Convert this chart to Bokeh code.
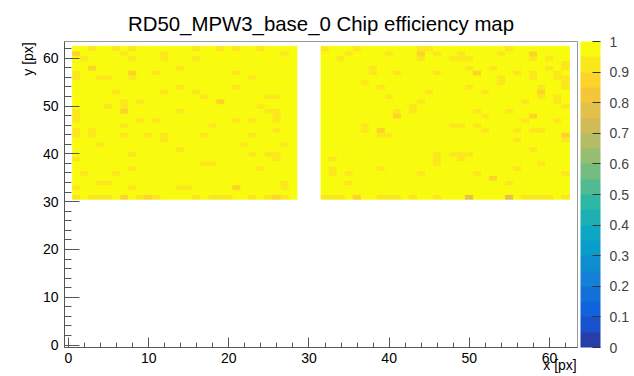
import numpy as np
from bokeh.plotting import figure
from bokeh.models import (LinearColorMapper, ColorBar, Range1d, SingleIntervalTicker,
                          ColumnDataSource, FixedTicker)
from bokeh.embed import file_html
from bokeh.resources import INLINE

# ---------------- data ----------------
title = "RD50_MPW3_base_0 Chip efficiency map"
x_label = "x [px]"
y_label = "y [px]"
col_blocks = [(1, 28), (32, 62)]      # active pixel columns
row_span = (31, 62)                   # active pixel rows
default_eff = 1.0

# cells with efficiency below 1 (column, row)
low_x = [3, 6, 8, 16, 19, 21, 24,
         1, 7, 12, 27,
         2, 8, 12, 16,
         3, 14,
         1, 8, 11, 21,
         1, 4, 5, 8, 23,
         14, 21,
         6, 12, 16,
         17, 25, 26,
         7, 9, 19,
         5, 7, 24,
         1, 7, 14, 25, 26,
         1, 26,
         1, 9, 11, 21, 23, 26,
         7, 18,
         1, 3, 26,
         1, 3, 7, 10, 12, 17, 23,
         12,
         4, 22, 27,
         14,
         8, 23, 25, 26,
         1, 26,
         17, 18,
         8, 24,
         2, 6,
         4, 5, 27,
         1, 8, 14, 15, 21, 27,
         1, 3, 4, 5, 7, 9, 10, 11, 16, 18, 19, 20, 23, 25, 26, 27,
         # right block
         32, 36, 44, 45, 55,
         35, 40, 44, 46, 49, 54, 58,
         34, 44, 48, 49, 50, 58, 60,
         62,
         38, 50, 53, 60, 62,
         38, 41, 46, 51, 56, 58, 61,
         54, 58, 61, 62,
         37, 54, 62,
         39, 50, 59, 62,
         45, 52, 59,
         40, 59, 61,
         44, 57, 61,
         43, 62,
         41, 43, 51, 55,
         41, 52, 58,
         57, 61,
         37, 48, 49, 51,
         37, 39, 52, 56, 58, 59,
         39, 40, 62,
         56, 62,
         58,
         46, 48, 49, 50,
         33, 46, 49,
         46, 59,
         33, 39, 56,
         33, 35, 44, 51, 62,
         53,
         35, 55,
         32, 33, 34, 36, 39, 40, 41, 43, 46, 50, 55, 57, 58, 59, 60, 62]
low_y = ([62] * 7 + [61] * 4 + [60] * 4 + [58] * 2 + [57] * 4 + [56] * 5 + [54] * 2 +
         [53] * 3 + [52] * 3 + [51] * 3 + [50] * 3 + [49] * 5 + [48] * 2 + [47] * 6 +
         [46] * 2 + [45] * 3 + [44] * 7 + [43] * 1 + [42] * 3 + [41] * 1 + [40] * 4 +
         [39] * 2 + [38] * 2 + [37] * 2 + [36] * 2 + [34] * 3 + [33] * 6 + [31] * 16 +
         [62] * 5 + [61] * 7 + [60] * 7 + [59] * 1 + [58] * 5 + [57] * 7 + [56] * 4 +
         [55] * 3 + [54] * 4 + [53] * 3 + [52] * 3 + [51] * 3 + [50] * 2 + [49] * 4 +
         [48] * 3 + [47] * 2 + [46] * 4 + [45] * 6 + [44] * 3 + [43] * 2 + [41] * 1 +
         [40] * 4 + [39] * 3 + [38] * 2 + [37] * 3 + [36] * 5 + [35] * 1 + [34] * 2 +
         [31] * 16)
# efficiencies of the darker cells; all other listed cells are light_eff
dark_cells = {(1, 61): 0.89, (3, 58): 0.89, (8, 57): 0.89, (19, 51): 0.89, (7, 49): 0.89,
              (21, 33): 0.89, (7, 31): 0.89, (10, 31): 0.89, (26, 31): 0.89,
              (44, 61): 0.89, (58, 61): 0.89, (51, 57): 0.89, (59, 53): 0.89,
              (41, 48): 0.89, (58, 48): 0.89, (39, 45): 0.89, (62, 44): 0.89,
              (53, 35): 0.89, (36, 31): 0.89, (50, 31): 0.78, (55, 31): 0.78}
light_eff = 0.93
cbar_ticks = [0, 0.1, 0.2, 0.3, 0.4, 0.5, 0.6, 0.7, 0.8, 0.9, 1]

# ---------------- palette (ROOT kBird, 20 contours) ----------------
stops = [0.0, 0.125, 0.25, 0.375, 0.5, 0.625, 0.75, 0.875, 1.0]
red = [0.2082, 0.0592, 0.0780, 0.0232, 0.1802, 0.5301, 0.8186, 0.9956, 0.9764]
green = [0.1664, 0.3599, 0.5041, 0.6419, 0.7178, 0.7492, 0.7328, 0.7862, 0.9832]
blue = [0.5293, 0.8684, 0.8385, 0.7914, 0.6425, 0.4662, 0.3499, 0.1968, 0.0539]
ncont = 20
palette = []
for i in range(ncont):
    k = int((i + 0.99) * 255 / ncont)
    t = k / 254.0
    r = np.interp(t, stops, red)
    g = np.interp(t, stops, green)
    b = np.interp(t, stops, blue)
    palette.append("#%02x%02x%02x" % (int(r * 255 + 0.5), int(g * 255 + 0.5), int(b * 255 + 0.5)))

# ---------------- build cells ----------------
eff = {}
for (c0, c1) in col_blocks:
    for cx in range(c0, c1 + 1):
        for cy in range(row_span[0], row_span[1] + 1):
            eff[(cx, cy)] = default_eff
for cx, cy in zip(low_x, low_y):
    eff[(cx, cy)] = dark_cells.get((cx, cy), light_eff)

xs = [k[0] for k in eff]
ys = [k[1] for k in eff]
vs = [eff[k] for k in eff]
src = ColumnDataSource(dict(x=xs, y=ys, v=vs))

mapper = LinearColorMapper(palette=palette, low=0, high=1)

FONT = "Liberation Sans"
NBSP_PAD = "\u00a0" * 9   # keeps an end-aligned axis title inside the axis span

p = figure(width=634, height=376, output_backend="svg", toolbar_location=None,
           x_range=Range1d(-0.5, 63.5), y_range=Range1d(-0.5, 63.5),
           min_border_left=64, min_border_top=41, min_border_bottom=29, min_border_right=57,
           title=title)
p.title.text_font = FONT
p.title.text_font_size = "20.4px"
p.title.text_font_style = "normal"
p.title.align = "center"
p.title.text_color = "#000000"
p.title.standoff = 14

p.rect(x="x", y="y", width=1, height=1, source=src,
       fill_color={"field": "v", "transform": mapper},
       line_color={"field": "v", "transform": mapper}, line_width=0.8)

p.grid.visible = False
p.outline_line_color = "#999999"
p.background_fill_color = "white"
p.border_fill_color = "white"

for ax in (p.xaxis[0], p.yaxis[0]):
    ax.ticker = SingleIntervalTicker(interval=10, num_minor_ticks=5)
    ax.axis_line_color = "#555555"
    ax.major_tick_line_color = "#555555"
    ax.minor_tick_line_color = "#555555"
    ax.major_tick_out = 0
    ax.minor_tick_out = 0
    ax.major_label_text_font = FONT
    ax.major_label_text_font_size = "14px"
    ax.major_label_text_color = "#000000"
    ax.axis_label_text_font = FONT
    ax.axis_label_text_font_size = "14px"
    ax.axis_label_text_font_style = "normal"
    ax.axis_label_text_color = "#000000"
    if "axis_label_align" in ax.properties():
        ax.axis_label_align = "end"

p.xaxis.axis_label = x_label + NBSP_PAD
p.yaxis.axis_label = y_label + NBSP_PAD
p.yaxis.major_tick_in = 15
p.yaxis.minor_tick_in = 7
p.yaxis.major_label_standoff = 6
p.yaxis.axis_label_standoff = 4
p.xaxis.major_tick_in = 10
p.xaxis.minor_tick_in = 5
p.xaxis.major_label_standoff = 5
p.xaxis.axis_label_standoff = -9

cb = ColorBar(color_mapper=mapper, width=20, height=306, padding=0, margin=0,
              location=(3, 0), ticker=FixedTicker(ticks=cbar_ticks),
              major_tick_in=8, major_tick_out=0, major_tick_line_color="#333333",
              minor_tick_line_color=None, bar_line_color=None,
              major_label_text_font=FONT, major_label_text_font_size="14px",
              label_standoff=9, background_fill_color=None, border_line_color=None)
p.add_layout(cb, "right")

open("out.html", "w").write(file_html(p, INLINE))
